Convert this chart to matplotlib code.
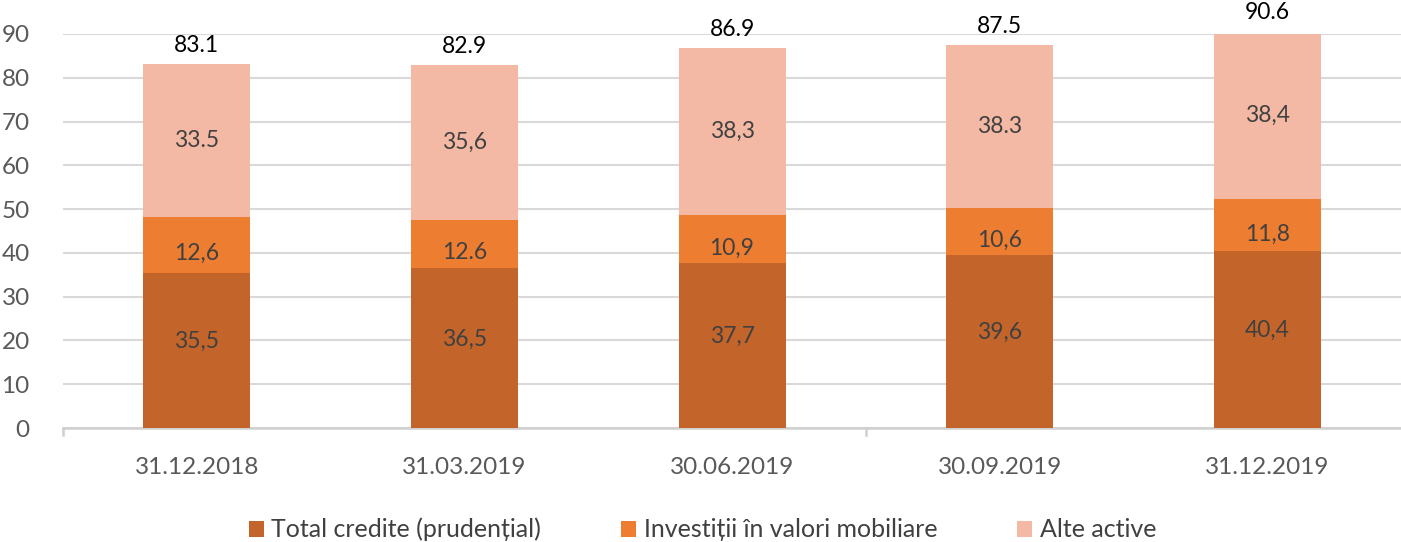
import matplotlib
matplotlib.use("Agg")
import matplotlib.pyplot as plt
import numpy as np

# date categorii
categories = ["31.12.2018", "31.03.2019", "30.06.2019", "30.09.2019", "31.12.2019"]
credite    = [35.5, 36.5, 37.7, 39.6, 40.4]
investitii = [12.6, 11.0, 10.9, 10.6, 11.8]
alte       = [35.0, 35.4, 38.3, 37.3, 38.4]

# etichetele afisate (asa cum apar in grafic)
lbl_credite    = ["35,5", "36,5", "37,7", "39,6", "40,4"]
lbl_investitii = ["12,6", "12.6", "10,9", "10,6", "11,8"]
lbl_alte       = ["33.5", "35,6", "38,3", "38.3", "38,4"]
lbl_total      = ["83.1", "82.9", "86.9", "87.5", "90.6"]

C_CRED = "#C3652A"
C_INV  = "#ED7D31"
C_ALTE = "#F4B9A4"

plt.rcParams["font.family"] = ["Lato", "DejaVu Sans"]

fig = plt.figure(figsize=(14.01, 5.42), dpi=100)
ax = fig.add_axes([0.045, 0.2103, 0.955, 0.727])

x = np.arange(len(categories))
w = 0.40
ax.bar(x, credite, w, color=C_CRED, label="Total credite (prudențial)", zorder=3)
ax.bar(x, investitii, w, bottom=credite, color=C_INV,
       label="Investiții în valori mobiliare", zorder=3)
bot3 = np.array(credite) + np.array(investitii)
ax.bar(x, alte, w, bottom=bot3, color=C_ALTE, label="Alte active", zorder=3)

for i in range(len(x)):
    ax.text(x[i], credite[i] / 2 + 2, lbl_credite[i], ha="center", va="center",
            fontsize=16.5, color="#404040", zorder=4)
    ax.text(x[i], credite[i] + investitii[i] / 2 - 2, lbl_investitii[i], ha="center",
            va="center", fontsize=16.5, color="#404040", zorder=4)
    ax.text(x[i], bot3[i] + alte[i] / 2, lbl_alte[i], ha="center", va="center",
            fontsize=16.5, color="#404040", zorder=4)
    ax.text(x[i], bot3[i] + alte[i] + 1.8, lbl_total[i], ha="center", va="bottom",
            fontsize=16.5, color="#000000", zorder=4, clip_on=False)

ax.set_xlim(-0.5, len(x) - 0.5)
ax.set_ylim(0, 90)
ax.set_yticks(range(0, 91, 10))
ax.set_xticks(x)
ax.set_xticklabels(categories)
ax.tick_params(axis="y", length=0, labelsize=17.5, labelcolor="#595959", pad=24)
ax.tick_params(axis="x", length=0, labelsize=17.5, labelcolor="#595959", pad=21)
ax.grid(axis="y", color="#D9D9D9", lw=1.5, zorder=0)
for s in ["top", "right", "left"]:
    ax.spines[s].set_visible(False)
ax.spines["bottom"].set_color("#D0D0D0")
ax.spines["bottom"].set_linewidth(1.8)

# semne de diviziune pe axa x
for xb in [-0.5, 2.5]:
    ax.plot([xb, xb], [0, -1.6], color="#D0D0D0", lw=1.8, clip_on=False)

ax.legend(loc="lower center", bbox_to_anchor=(0.478, -0.345), ncol=3, frameon=False,
          fontsize=18, handlelength=0.6, handleheight=0.6, handletextpad=0.3,
          columnspacing=3.2, labelcolor="#404040")

fig.savefig("out.png", dpi=100)
